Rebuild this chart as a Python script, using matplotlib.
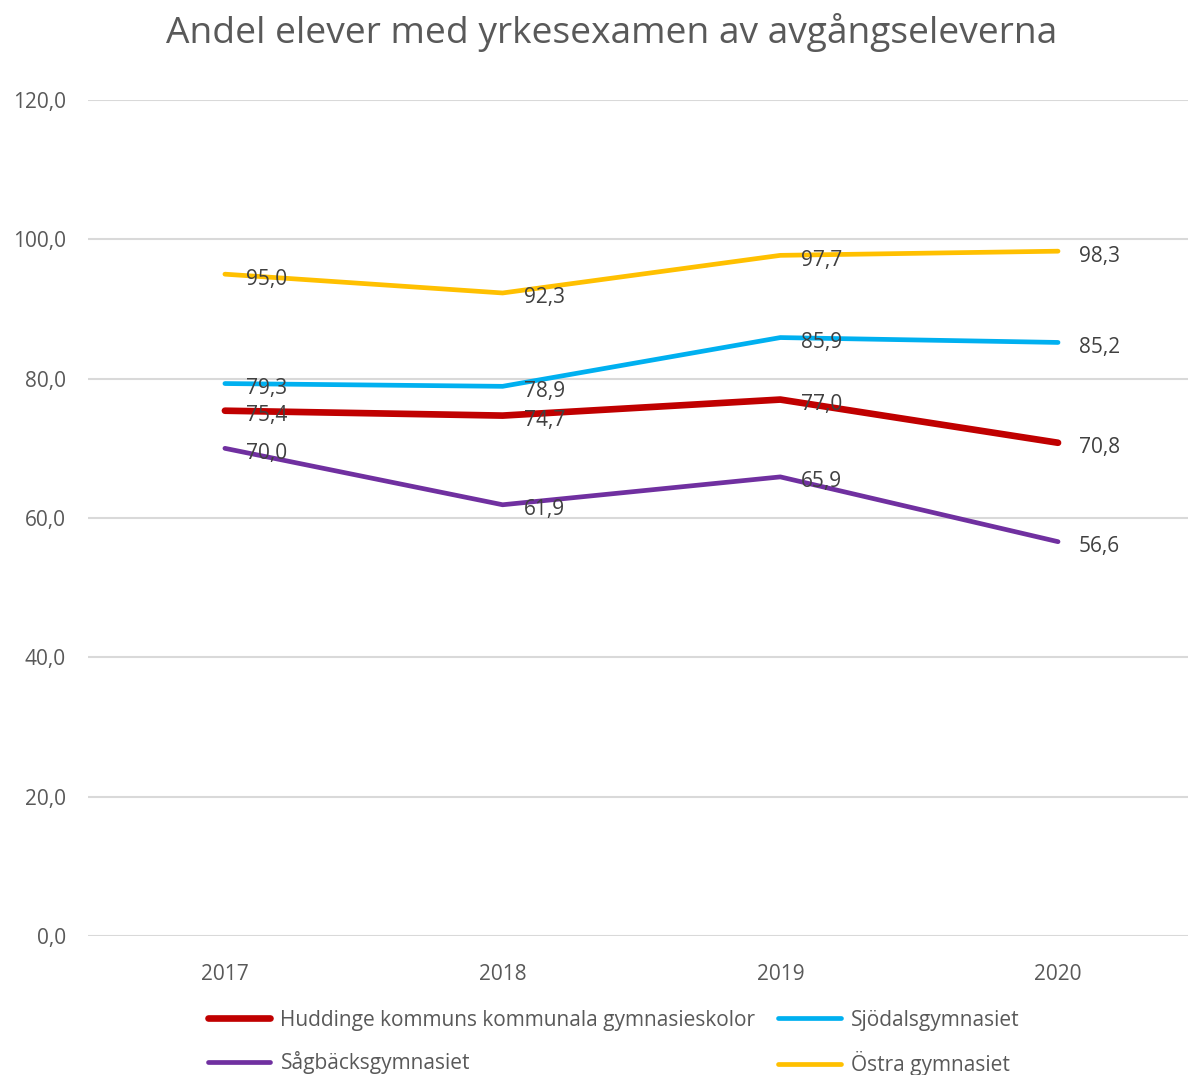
import matplotlib
matplotlib.use("Agg")
import matplotlib.pyplot as plt

plt.rcParams['font.family'] = ['Open Sans', 'DejaVu Sans']

years = ["2017", "2018", "2019", "2020"]
series_names = ["Huddinge kommuns kommunala gymnasieskolor", "Sjödalsgymnasiet",
                "Sågbäcksgymnasiet", "Östra gymnasiet"]
huddinge = [75.4, 74.7, 77.0, 70.8]
sjodal = [79.3, 78.9, 85.9, 85.2]
sagback = [70.0, 61.9, 65.9, 56.6]
ostra = [95.0, 92.3, 97.7, 98.3]
yticks = [0, 20, 40, 60, 80, 100, 120]
title = "Andel elever med yrkesexamen av avgångseleverna"

values = [huddinge, sjodal, sagback, ostra]
colors = ["#C00000", "#00B0F0", "#7030A0", "#FFC000"]
widths = [4.8, 3.4, 3.4, 3.4]

fig = plt.figure(figsize=(11.88, 10.75), dpi=100)
ax = fig.add_axes([88/1188, (1075-936)/1075, 1100/1188, 836/1075])

x = list(range(len(years)))
lines = []
for vals, c, lw, name in zip(values, colors, widths, series_names):
    ln, = ax.plot(x, vals, color=c, lw=lw, solid_capstyle='round', solid_joinstyle='round',
                  label=name, zorder=3)
    lines.append(ln)
for vals in values:
    for xi, v in zip(x, vals):
        ax.annotate(f"{v:.1f}".replace(".", ","), (xi, v), xytext=(21, -5),
                    textcoords='offset pixels', ha='left', va='center',
                    fontsize=15, color="#404040", zorder=5)

ax.set_ylim(0, 120)
ax.set_xlim(-0.493, 3.468)
ax.set_yticks(yticks)
ax.set_yticklabels([f"{t:.1f}".replace(".", ",") for t in yticks])
ax.set_xticks(x)
ax.set_xticklabels(years)
ax.tick_params(axis='both', length=0, labelsize=15, colors="#595959")
ax.tick_params(axis='y', pad=16)
ax.tick_params(axis='x', pad=20)
ax.grid(axis='y', color="#D9D9D9", lw=1.5)
ax.set_axisbelow(True)
for s in ax.spines.values():
    s.set_visible(False)

fig.text(0.515, 1 - 33/1075, title, ha='center', va='center', fontsize=26.7, color="#595959")

order = [0, 2, 1, 3]
leg = fig.legend([lines[i] for i in order], [series_names[i] for i in order],
                 loc='center', bbox_to_anchor=(0.5166, 1 - 1043/1075), ncol=2,
                 frameon=False, fontsize=15, handlelength=3.0, handletextpad=0.5,
                 columnspacing=1.1, labelspacing=1.0, borderpad=0)
for t in leg.get_texts():
    t.set_color("#595959")

fig.savefig("out.png", dpi=100)
